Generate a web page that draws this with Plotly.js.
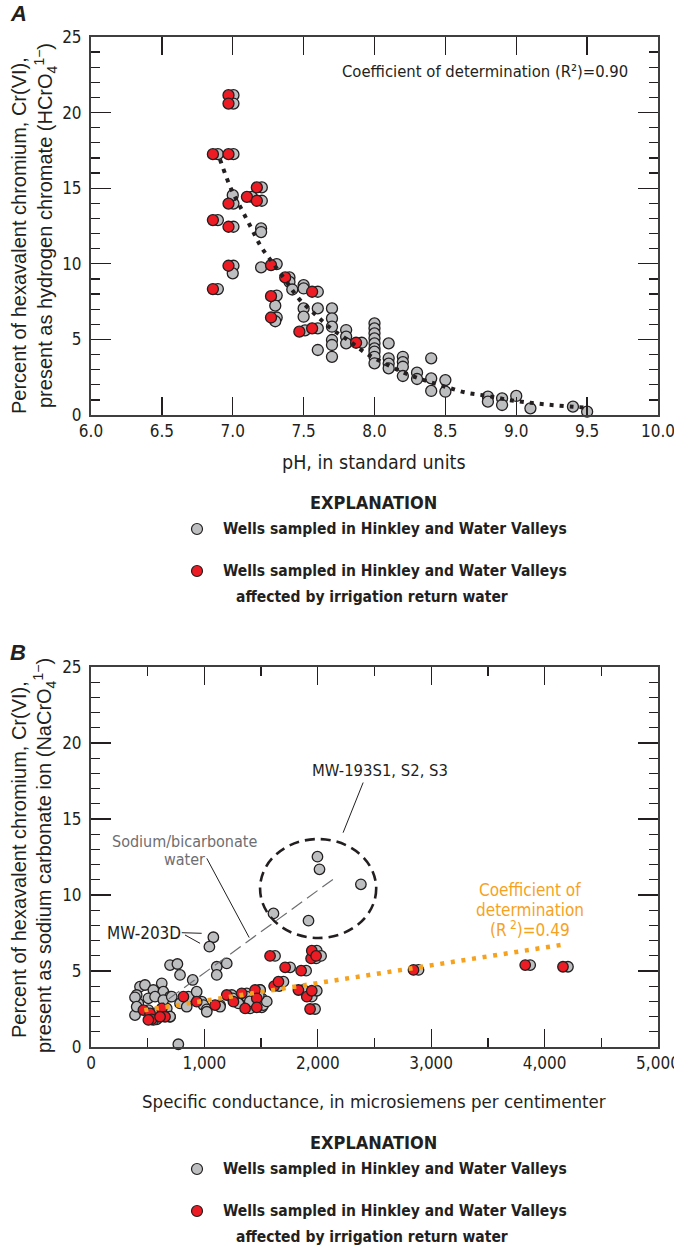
<!DOCTYPE html>
<html>
<head>
<meta charset="utf-8">
<script src="https://cdn.plot.ly/plotly-3.0.1.min.js"></script>
<style>
  html, body { margin: 0; padding: 0; background: #fff; }
  #chart { width: 674px; height: 1249px; }
</style>
</head>
<body>
<div id="chart"></div>
<script>
// ---------- Panel A: pH vs. percent of Cr(VI) as HCrO4- ----------
// Wells sampled in Hinkley and Water Valleys (gray)
const phAll = [
  7.005, 7.005, 6.895, 7.005, 7.205, 7.135, 7.205, 7.005, 6.895, 7.005, 7.005, 6.895,
  7.31, 7.40, 7.31, 7.31, 7.60, 7.51, 7.60, 7.91,
  7.00, 7.00, 7.20, 7.20, 7.20, 7.40, 7.42, 7.30, 7.30, 7.50, 7.50, 7.50, 7.50,
  7.60, 7.60, 7.70, 7.70, 7.70, 7.70, 7.70, 7.70, 7.80, 7.80, 7.80,
  8.00, 8.00, 8.00, 8.00, 8.00, 8.00, 8.00, 8.00, 8.00,
  8.10, 8.10, 8.10, 8.10, 8.20, 8.20, 8.20, 8.20, 8.30, 8.30,
  8.40, 8.40, 8.40, 8.50, 8.50, 8.80, 8.80, 8.90, 8.90, 9.00, 9.10, 9.40, 9.50
];
const pctAll = [
  21.15, 20.6, 17.25, 17.25, 15.05, 14.43, 14.17, 13.98, 12.89, 12.45, 9.87, 8.33,
  9.98, 9.1, 7.9, 6.45, 8.15, 5.6, 5.73, 4.78,
  14.54, 9.37, 12.34, 12.1, 9.76, 8.8, 8.3, 7.23, 6.2, 8.59, 8.37, 7.05, 6.5,
  7.05, 4.3, 7.05, 6.39, 5.84, 4.96, 4.63, 3.85, 5.62, 5.18, 4.74,
  6.06, 5.73, 5.4, 5.07, 4.74, 4.4, 4.19, 3.85, 3.42,
  4.74, 3.75, 3.4, 3.09, 3.85, 3.5, 3.19, 2.58, 2.8, 2.38,
  3.75, 2.42, 1.59, 2.31, 1.54, 1.21, 0.88, 1.1, 0.66, 1.26, 0.44, 0.55, 0.22
];
// Wells affected by irrigation return water (red)
const phIrr = [
  6.97, 6.97, 6.86, 6.97, 7.17, 7.10, 7.17, 6.97, 6.86, 6.97, 6.97, 6.86,
  7.27, 7.37, 7.27, 7.27, 7.56, 7.47, 7.56, 7.87
];
const pctIrr = [
  21.15, 20.6, 17.25, 17.25, 15.05, 14.43, 14.17, 13.98, 12.89, 12.45, 9.87, 8.33,
  9.91, 9.1, 7.86, 6.45, 8.15, 5.51, 5.73, 4.78
];
// Fitted curve (R2 = 0.90)
const phFit  = [6.91, 6.99, 7.06, 7.13, 7.20, 7.29, 7.38, 7.47, 7.58, 7.69, 7.82, 7.94,
                8.08, 8.22, 8.36, 8.50, 8.65, 8.80, 8.95, 9.10, 9.25, 9.40, 9.48];
const pctFit = [16.9, 14.92, 13.64, 12.38, 11.12, 9.96, 8.81, 7.65, 6.67, 5.75, 4.91, 4.08,
                3.37, 2.75, 2.27, 1.87, 1.47, 1.26, 0.99, 0.81, 0.66, 0.55, 0.5];
const phTicks = [6.0, 6.5, 7.0, 7.5, 8.0, 8.5, 9.0, 9.5, 10.0];
const phTickText = ['6.0', '6.5', '7.0', '7.5', '8.0', '8.5', '9.0', '9.5', '10.0'];
const pctTicks = [0, 5, 10, 15, 20, 25];

// ---------- Panel B: specific conductance vs. percent of Cr(VI) as NaCrO4- ----------
const condAll = [
  506, 565, 579, 550, 668, 697, 697, 859, 976, 1138, 1241, 1300, 1373, 1403, 1491, 1506, 1506,
  1623, 1659, 1697, 1756, 1873, 1897, 1947, 1976, 1985, 1991, 1991, 2029, 2888, 3873, 4206,
  1079, 1044, 1609, 1997, 2015, 1918, 2380, 770,
  697, 762, 785, 1109, 1197, 1109, 897,
  432, 476, 550, 624, 638, 403, 417, 506, 565, 697, 932, 991, 1021, 388, 388, 403, 638,
  712, 785, 844, 1021, 1138, 1300, 1374, 1491, 1520, 1550, 1250, 1400, 1480
];
const pctNaAll = [
  2.43, 2.21, 1.82, 1.78, 2.54, 1.99, 2.0, 3.31, 2.98, 2.76, 3.42, 2.98, 3.53, 2.54, 3.75, 3.2, 2.61,
  5.99, 4.01, 4.3, 5.24, 3.75, 5.02, 3.31, 2.5, 5.83, 3.7, 6.34, 5.99, 5.07, 5.39, 5.28,
  7.22, 6.6, 8.79, 12.52, 11.69, 8.31, 10.7, 0.18,
  5.39, 5.46, 4.74, 5.28, 5.5, 4.74, 4.41,
  3.97, 4.08, 3.75, 4.19, 3.64, 3.42, 2.87, 3.2, 3.31, 3.31, 3.64, 2.76, 2.48, 2.1, 3.27, 2.65, 3.09,
  3.31, 2.87, 2.65, 2.32, 2.65, 2.87, 3.31, 3.75, 2.76, 3.0, 3.2, 3.0, 3.4
];
const condIrr = [
  462, 521, 535, 506, 624, 653, 609, 815, 932, 1094, 1197, 1256, 1329, 1359, 1447, 1462, 1462,
  1579, 1615, 1653, 1712, 1829, 1853, 1903, 1932, 1941, 1947, 1947, 1985, 2844, 3829, 4162
];
const pctNaIrr = [
  2.43, 2.21, 1.82, 1.78, 2.54, 1.99, 1.99, 3.31, 2.98, 2.76, 3.42, 2.98, 3.53, 2.54, 3.75, 3.2, 2.61,
  5.99, 4.01, 4.3, 5.24, 3.75, 5.02, 3.31, 2.5, 5.83, 3.7, 6.34, 5.99, 5.07, 5.39, 5.28
];
// Fitted line for irrigation-affected wells (R2 = 0.49)
const condFit = [470, 4150];
const pctNaFit = [2.42, 6.72];
// Sodium/bicarbonate water trend
const condNaHCO3 = [550, 2138];
const pctNaHCO3 = [2.43, 11.05];
const condTicks = [0, 1000, 2000, 3000, 4000, 5000];
const condTickText = ['0', '1,000', '2,000', '3,000', '4,000', '5,000'];

// ---------- styling ----------
const W = 674, H = 1249;
const px = x => x / W;
const py = y => 1 - y / H;
const NARROW = '"Liberation Sans Narrow", "DejaVu Sans Condensed", "Arial Narrow", sans-serif';
const SANS = '"Liberation Sans", Arial, sans-serif';
const INK = '#231f20';
const GRAY = '#bcbec0';
const RED = '#ed1c24';
const ORANGE = '#f6a21e';

function axisStyle(extra) {
  return Object.assign({
    showline: true, mirror: 'allticks', linewidth: 2, linecolor: '#3f3f3f',
    ticks: 'inside', tickwidth: 1.3, tickcolor: INK,
    showgrid: false, zeroline: false, fixedrange: true,
    ticklabeloverflow: 'allow',
    tickfont: { family: NARROW, size: 17, color: INK }
  }, extra);
}

const mk = (fill, size) => ({ size: size, color: fill, line: { color: INK, width: 1.3 } });

const traces = [
  { x: phAll, y: pctAll, xaxis: 'x', yaxis: 'y', type: 'scatter', mode: 'markers',
    marker: mk(GRAY, 11), cliponaxis: false, hoverinfo: 'skip' },
  { x: phIrr, y: pctIrr, xaxis: 'x', yaxis: 'y', type: 'scatter', mode: 'markers',
    marker: mk(RED, 11), cliponaxis: false, hoverinfo: 'skip' },
  { x: phFit, y: pctFit, xaxis: 'x', yaxis: 'y', type: 'scatter', mode: 'lines',
    line: { color: INK, width: 4, dash: '4px,6px', shape: 'spline' }, cliponaxis: false, hoverinfo: 'skip' },

  { x: condAll, y: pctNaAll, xaxis: 'x2', yaxis: 'y2', type: 'scatter', mode: 'markers',
    marker: mk(GRAY, 10.5), cliponaxis: false, hoverinfo: 'skip' },
  { x: condNaHCO3, y: pctNaHCO3, xaxis: 'x2', yaxis: 'y2', type: 'scatter', mode: 'lines',
    line: { color: '#6d6e71', width: 1.2, dash: '13px,6px' }, hoverinfo: 'skip' },
  { x: condIrr, y: pctNaIrr, xaxis: 'x2', yaxis: 'y2', type: 'scatter', mode: 'markers',
    marker: mk(RED, 10.5), cliponaxis: false, hoverinfo: 'skip' },
  { x: condFit, y: pctNaFit, xaxis: 'x2', yaxis: 'y2', type: 'scatter', mode: 'lines',
    line: { color: ORANGE, width: 4.5, dash: '4px,6.7px' }, hoverinfo: 'skip' }
];

function note(text, x, y, opts) {
  return Object.assign({
    text: text, xref: 'paper', yref: 'paper', x: px(x), y: py(y),
    xanchor: 'center', yanchor: 'middle', showarrow: false,
    font: { family: NARROW, size: 17, color: INK }
  }, opts || {});
}

const LEG_FONT = { family: NARROW, size: 15.5, color: INK, weight: 'bold' };

function legendBlock(top) {
  return [
    note('EXPLANATION', 374, top, { font: { family: NARROW, size: 18, color: INK, weight: 'bold' } }),
    note('Wells sampled in Hinkley and Water Valleys', 221, top + 27, { xanchor: 'left', font: LEG_FONT }),
    note('Wells sampled in Hinkley and Water Valleys', 221, top + 69, { xanchor: 'left', font: LEG_FONT }),
    note('affected by irrigation return water', 234, top + 95, { xanchor: 'left', font: LEG_FONT })
  ];
}

function legendDot(cx, cy, fill) {
  return { type: 'circle', xref: 'paper', yref: 'paper', xsizemode: 'pixel', ysizemode: 'pixel',
    xanchor: px(cx), yanchor: py(cy), x0: -5.5, x1: 5.5, y0: -5.5, y1: 5.5,
    fillcolor: fill, line: { color: INK, width: 1.2 } };
}

const TITLE_FONT = { family: SANS, size: 20, color: INK };

const annotations = [
  note('A', 18, 14, { font: { family: SANS, size: 22, color: INK, weight: 'bold', style: 'italic' } }),
  note('Coefficient of determination (R²)=0.90', 485, 71, { font: { family: NARROW, size: 16.5, color: INK } }),
  note('Percent of hexavalent chromium, Cr(VI),', 19, 236, { textangle: -90, font: TITLE_FONT }),
  note('present as hydrogen chromate (HCrO<sub>4</sub><sup>1−</sup>)', 45, 226, { textangle: -90, font: TITLE_FONT }),
  note('pH, in standard units', 374, 462, { font: { family: NARROW, size: 19.5, color: INK } }),
  ...legendBlock(502),

  note('B', 18, 652, { font: { family: SANS, size: 22, color: INK, weight: 'bold', style: 'italic' } }),
  note('Percent of hexavalent chromium, Cr(VI),', 19, 860, { textangle: -90, font: TITLE_FONT }),
  note('present as sodium carbonate ion (NaCrO<sub>4</sub><sup>1−</sup>)', 45, 856, { textangle: -90, font: TITLE_FONT }),
  note('Specific conductance, in microsiemens per centimenter', 374, 1101, { font: { family: NARROW, size: 18.5, color: INK } }),
  note('MW-193S1, S2, S3', 380, 770, { font: { family: NARROW, size: 16.5, color: INK } }),
  note('MW-203D', 144, 933, { font: { family: NARROW, size: 17, color: INK } }),
  note('Sodium/bicarbonate', 184, 841, { font: { family: NARROW, size: 16, color: '#6d6e71' } }),
  note('water', 184, 859, { font: { family: NARROW, size: 16, color: '#6d6e71' } }),
  note('Coefficient of', 530, 890, { font: { family: NARROW, size: 17, color: ORANGE } }),
  note('determination', 530, 910, { font: { family: NARROW, size: 17, color: ORANGE } }),
  note('(R<sup> 2</sup>)=0.49', 530, 929, { font: { family: NARROW, size: 17, color: ORANGE } }),
  ...legendBlock(1142)
];

const lineB = (x0, y0, x1, y1, w) => ({ type: 'line', xref: 'x2', yref: 'y2', x0, y0, x1, y1,
  line: { color: INK, width: w || 1 } });

const shapes = [
  legendDot(197, 529, GRAY), legendDot(197, 571, RED),
  legendDot(197, 1169, GRAY), legendDot(197, 1211, RED),
  { type: 'circle', xref: 'x2', yref: 'y2', x0: 1491, x1: 2515, y0: 7.17, y1: 13.68,
    line: { color: INK, width: 2.6, dash: '10px,6px' } },
  lineB(2400, 17.4, 2223, 14.1),
  lineB(1021, 12.41, 1395, 7.2),
  lineB(800, 7.52, 976, 7.48),
  lineB(829, 7.37, 962, 6.82)
];

const layout = {
  width: W, height: H,
  margin: { l: 0, r: 0, t: 0, b: 0 },
  paper_bgcolor: '#fff', plot_bgcolor: '#fff',
  showlegend: false,
  xaxis: axisStyle({ domain: [px(91), px(658)], range: [6, 10], anchor: 'y',
    tickmode: 'array', tickvals: phTicks, ticktext: phTickText, ticklen: 18 }),
  yaxis: axisStyle({ domain: [py(415), py(37)], range: [0, 25], anchor: 'x',
    tickmode: 'array', tickvals: pctTicks, ticklen: 20, ticklabelstandoff: 4,
    minor: { dtick: 1, ticks: 'inside', ticklen: 9, tickwidth: 1.3, tickcolor: INK } }),
  xaxis2: axisStyle({ domain: [px(91), px(658)], range: [0, 5000], anchor: 'y2',
    tickmode: 'array', tickvals: condTicks, ticktext: condTickText, ticklen: 18,
    minor: { dtick: 500, ticks: 'inside', ticklen: 9, tickwidth: 1.3, tickcolor: INK } }),
  yaxis2: axisStyle({ domain: [py(1047), py(667)], range: [0, 25], anchor: 'x2',
    tickmode: 'array', tickvals: pctTicks, ticklen: 20, ticklabelstandoff: 4,
    minor: { dtick: 1, ticks: 'inside', ticklen: 9, tickwidth: 1.3, tickcolor: INK } }),
  annotations: annotations,
  shapes: shapes
};

Plotly.newPlot('chart', traces, layout, { staticPlot: true, displayModeBar: false });
</script>
</body>
</html>
